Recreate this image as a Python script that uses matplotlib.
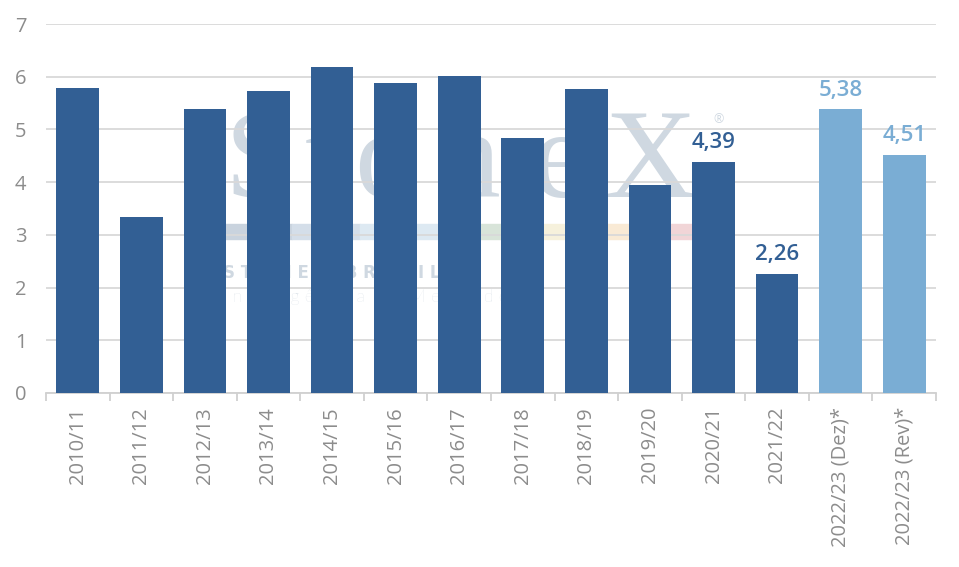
import matplotlib
matplotlib.use("Agg")
import matplotlib.pyplot as plt
from matplotlib.patches import Rectangle
import numpy as np

categories = ["2010/11", "2011/12", "2012/13", "2013/14", "2014/15", "2015/16",
              "2016/17", "2017/18", "2018/19", "2019/20", "2020/21", "2021/22",
              "2022/23 (Dez)*", "2022/23 (Rev)*"]
values = [5.78, 3.33, 5.38, 5.72, 6.18, 5.89, 6.02, 4.83, 5.76, 3.94, 4.39, 2.26, 5.38, 4.51]
label_idx = [10, 11, 12, 13]
label_texts = ["4,39", "2,26", "5,38", "4,51"]
dark = "#325F94"
light = "#7AADD4"
bar_colors = [dark] * 12 + [light] * 2

plt.rcParams['font.family'] = ['Open Sans', 'DejaVu Sans']

W, H = 959, 567
fig = plt.figure(figsize=(W / 100, H / 100), dpi=100)
ax = fig.add_axes([46 / W, 1 - 393 / H, (936 - 46) / W, (393 - 24) / H])

# ---- watermark (behind gridlines) ----
wm = "#cfd8e1"
px = lambda xp, yp: (xp / W, 1 - yp / H)
letters = [("S", 260), ("t", 322), ("o", 386), ("n", 468), ("e", 560), ("X", 650)]
for ch, cx in letters:
    fx, fy = px(cx, 197)
    fig.text(fx, fy, ch, family='Liberation Serif', fontsize=92, color=wm,
             ha='center', va='baseline', zorder=-5)
fx, fy = px(719, 120)
fig.text(fx, fy, "®", fontsize=9, color=wm, ha='center', va='center', zorder=-5)
stripe = [(223, 292, "#c9d3de"), (292, 360, "#d4dee9"), (360, 462, "#dde9f2"),
          (462, 522, "#d8e4d9"), (522, 580, "#f6f1dc"), (580, 640, "#f9ead5"),
          (640, 705, "#f1d5d7")]
for x0, x1, c in stripe:
    fig.patches.append(Rectangle((x0 / W, 1 - 239 / H), (x1 - x0) / W, 15 / H,
                                 transform=fig.transFigure, color=c, zorder=-5))
fx, fy = px(223, 273)
fig.text(fx, fy, "S T O N E X   B R A S I L", fontsize=12, fontweight='bold',
         family='DejaVu Sans', color=wm, ha='left', va='center', zorder=-5)
fx, fy = px(223, 297)
fig.text(fx, fy, "I n t e l i g ê n c i a  d e  M e r c a d o", fontsize=13,
         family='Lato', fontweight='light', color=wm, ha='left', va='center', zorder=-5)
ax.patch.set_alpha(0)

x = np.arange(len(categories))
ax.bar(x, values, width=0.67, color=bar_colors, zorder=3)

for i, t in zip(label_idx, label_texts):
    ax.annotate(t, (x[i], values[i]), xytext=(0, 10), textcoords='offset points',
                ha='center', va='baseline', fontsize=16, fontweight='semibold',
                color=bar_colors[i], zorder=4)

ax.set_xlim(-0.5, len(categories) - 0.5)
ax.set_ylim(0, 7)
ax.set_yticks(range(0, 8))
ax.yaxis.grid(True, color="#d9d9d9", linewidth=1.3)
ax.set_axisbelow(True)
for s in ['top', 'right', 'left']:
    ax.spines[s].set_visible(False)
ax.spines['bottom'].set_color("#d0d0d0")
ax.spines['bottom'].set_linewidth(1.3)

ax.set_xticks(x)
ax.set_xticklabels(categories, rotation=90, fontsize=14.5, color="#8c8c8c")
ax.tick_params(axis='x', length=0, pad=10)
ax.set_xticks(np.arange(-0.5, len(categories), 1), minor=True)
ax.tick_params(axis='x', which='minor', length=6, color="#d0d0d0", width=1.3)
ax.tick_params(axis='y', length=0, labelsize=14.5, labelcolor="#8c8c8c", pad=14)

fig.savefig("out.png", dpi=100, facecolor='white')
